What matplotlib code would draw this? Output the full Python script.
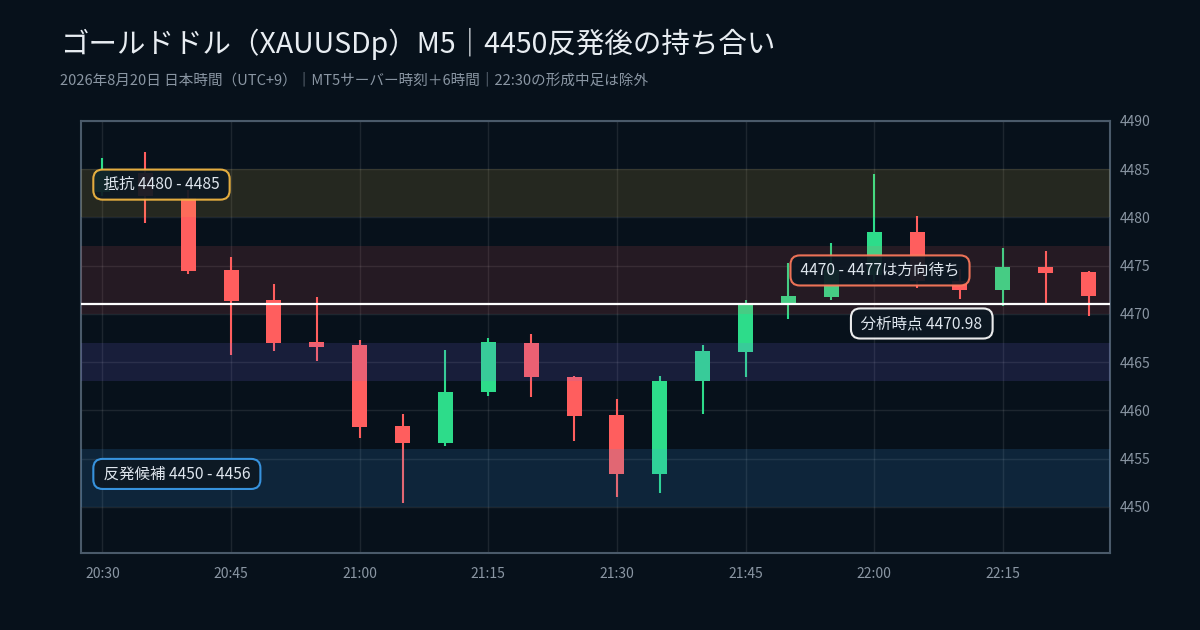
import matplotlib
matplotlib.use("Agg")
import matplotlib.pyplot as plt

plt.rcParams['font.family'] = ['Noto Sans CJK JP', 'DejaVu Sans']

# M5 candles, 20:30 - 22:25 (JST)
times = ["20:30", "20:35", "20:40", "20:45", "20:50", "20:55",
         "21:00", "21:05", "21:10", "21:15", "21:20", "21:25",
         "21:30", "21:35", "21:40", "21:45", "21:50", "21:55",
         "22:00", "22:05", "22:10", "22:15", "22:20", "22:25"]
opens = [4482.6, 4484.6, 4482.0, 4474.5, 4471.4, 4467.1,
         4466.8, 4458.4, 4456.6, 4461.9, 4467.0, 4463.5,
         4459.5, 4453.4, 4463.0, 4466.0, 4471.1, 4471.7,
         4474.0, 4478.5, 4473.4, 4472.5, 4474.9, 4474.3]
highs = [4486.2, 4486.8, 4482.8, 4475.9, 4473.1, 4471.7,
         4467.3, 4459.6, 4466.2, 4467.5, 4467.9, 4463.6,
         4461.2, 4463.6, 4466.8, 4471.4, 4475.3, 4477.3,
         4484.5, 4480.1, 4474.6, 4476.8, 4476.5, 4474.4]
lows = [4482.2, 4479.4, 4474.1, 4465.7, 4466.1, 4465.1,
        4457.1, 4450.4, 4456.3, 4461.5, 4461.4, 4456.8,
        4451.0, 4451.4, 4459.6, 4463.5, 4469.5, 4471.4,
        4473.3, 4472.7, 4471.5, 4470.8, 4471.0, 4469.8]
closes = [4484.8, 4482.2, 4474.4, 4471.3, 4467.0, 4466.6,
          4458.3, 4456.6, 4461.9, 4467.1, 4463.4, 4459.4,
          4453.4, 4463.0, 4466.1, 4470.9, 4471.8, 4474.5,
          4478.5, 4473.4, 4472.5, 4474.9, 4474.2, 4471.8]

current_price = 4470.98
resist_zone = (4480, 4485)
range_zone = (4470, 4477)
mid_zone = (4463, 4467)
support_zone = (4450, 4456)

y_ticks = [4450, 4455, 4460, 4465, 4470, 4475, 4480, 4485, 4490]
x_tick_pos = [0, 3, 6, 9, 12, 15, 18, 21]

bg = "#07111b"
up_col = "#2ddc8a"
down_col = "#ff5e5e"

fig = plt.figure(figsize=(12, 6.3), dpi=100, facecolor=bg)
ax = fig.add_axes([0.0675, 0.1222, 0.8575, 0.6858])
ax.set_facecolor(bg)

# candles
idx = list(range(len(times)))
for i in idx:
    col = up_col if closes[i] >= opens[i] else down_col
    ax.vlines(i, lows[i], highs[i], color=col, linewidth=1.5, zorder=2)
    bottom = min(opens[i], closes[i])
    height = max(abs(closes[i] - opens[i]), 0.15)
    ax.bar(i, height, bottom=bottom, width=0.35, color=col, zorder=2)

# zones (drawn over candles, semi transparent)
ax.axhspan(*resist_zone, color="#f4c542", alpha=0.13, lw=0, zorder=3)
ax.axhspan(*range_zone, color="#ff5e5e", alpha=0.12, lw=0, zorder=3)
ax.axhspan(*mid_zone, color="#7c6cf0", alpha=0.15, lw=0, zorder=3)
ax.axhspan(*support_zone, color="#3b9ded", alpha=0.15, lw=0, zorder=3)

# current price
ax.axhline(current_price, color="white", linewidth=1.6, zorder=4)

# labels (spaces give a little more room left/right inside the box)
def tag(x, y, text, edge):
    ax.text(x, y, " " + text + " ", ha="left", va="center", fontsize=11.2,
            color="#dfe6ee", zorder=6,
            bbox=dict(boxstyle="round,pad=0.42,rounding_size=0.6",
                      facecolor="#0d1823", alpha=0.92, edgecolor=edge, linewidth=1.5))

tag(-0.06, 4483.4, "抵抗 4480 - 4485", "#f5b942")
tag(-0.06, 4453.4, "反発候補 4450 - 4456", "#3b9ded")
tag(16.20, 4474.5, "4470 - 4477は方向待ち", "#ff7a5c")
tag(17.61, 4469.0, "分析時点 4470.98", "#ffffff")

ax.set_xlim(-0.5, 23.5)
ax.set_ylim(4445.2, 4490)
ax.set_yticks(y_ticks)
ax.set_xticks(x_tick_pos)
ax.set_xticklabels([times[i] for i in x_tick_pos])
ax.yaxis.tick_right()
ax.tick_params(axis="both", length=0, labelsize=10, labelcolor="#8a96a3")
ax.tick_params(axis="y", pad=7)
ax.tick_params(axis="x", pad=10)
ax.grid(True, color="white", alpha=0.09, linewidth=1, zorder=1)
ax.set_axisbelow(True)
for s in ax.spines.values():
    s.set_color("#4a5a6a")
    s.set_linewidth(1.5)

fig.text(0.05, 0.930, "ゴールドドル（XAUUSDp）M5｜4450反発後の持ち合い",
         fontsize=20.5, color="#e8edf2", va="center", ha="left")
fig.text(0.05, 0.873,
         "2026年8月20日 日本時間（UTC+9）｜MT5サーバー時刻＋6時間｜22:30の形成中足は除外",
         fontsize=10.5, color="#8a96a3", va="center", ha="left")

fig.savefig("out.png", dpi=100, facecolor=bg)
